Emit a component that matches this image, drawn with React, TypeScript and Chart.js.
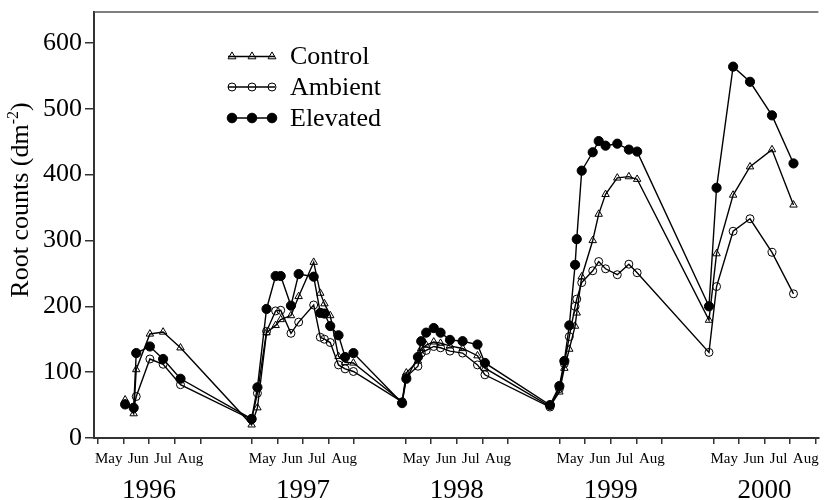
import React, { useEffect, useRef } from 'react';
import { Chart, registerables } from 'chart.js';

Chart.register(...registerables);

// ---- data ----
const years = [1996, 1997, 1998, 1999, 2000];
const monthLabels = ['May', 'Jun', 'Jul', 'Aug'];
const yTicks = [0, 100, 200, 300, 400, 500, 600];

const sampleDates = [
  // 1996
  '1996-06-03', '1996-06-13', '1996-06-16', '1996-07-02', '1996-07-18', '1996-08-08',
  // 1997
  '1997-05-01', '1997-05-08', '1997-05-19', '1997-05-30', '1997-06-05', '1997-06-17', '1997-06-26',
  '1997-07-14', '1997-07-22', '1997-07-27', '1997-08-03', '1997-08-13', '1997-08-21', '1997-08-31',
  // 1998
  '1998-04-27', '1998-05-02', '1998-05-16', '1998-05-20', '1998-05-26', '1998-06-04', '1998-06-12',
  '1998-06-23', '1998-07-08', '1998-07-26', '1998-08-04',
  // 1999
  '1999-04-20', '1999-05-01', '1999-05-07', '1999-05-13', '1999-05-20', '1999-05-22', '1999-05-28',
  '1999-06-10', '1999-06-17', '1999-06-25', '1999-07-09', '1999-07-23', '1999-08-02',
  // 2000
  '2000-04-26', '2000-05-05', '2000-05-25', '2000-06-14', '2000-07-10', '2000-08-05',
];

const control = [
  58, 37, 104, 158, 161, 137,
  20, 46, 160, 171, 180, 186, 215, 267, 220, 204, 186, 124, 115, 114,
  55, 99, 117, 136, 141, 146, 144, 140, 136, 125, 106,
  48, 70, 106, 135, 170, 190, 245, 300, 340, 370, 395, 397, 393,
  179, 280, 369, 412, 438, 354,
];

const ambient = [
  52, 45, 63, 120, 112, 81,
  28, 68, 162, 193, 194, 159, 176, 202, 153, 150, 145, 111, 105, 101,
  55, 93, 109, 129, 133, 139, 137, 132, 129, 111, 96,
  47, 75, 113, 154, 200, 211, 236, 254, 268, 257, 248, 264, 251,
  130, 230, 314, 333, 282, 219,
];

const elevated = [
  51, 46, 129, 139, 120, 90,
  29, 77, 196, 246, 246, 201, 249, 245, 190, 189, 170, 156, 123, 129,
  53, 90, 123, 147, 160, 167, 160, 149, 147, 142, 114,
  50, 79, 117, 171, 263, 302, 406, 434, 451, 444, 447, 438, 435,
  200, 380, 564, 541, 490, 417,
];

// ---- helpers ----
const FIRST_YEAR = years[0];
const MONTHS_PER_YEAR_SHOWN = 6; // each year panel spans six months (May..Sep + gap)
const FIRST_MONTH = 5; // May

function toAxis(d: string): number {
  const [y, m, day] = d.split('-').map(Number);
  const dim = new Date(y, m, 0).getDate();
  return (y - FIRST_YEAR) * MONTHS_PER_YEAR_SHOWN + (m + (day - 1) / dim - FIRST_MONTH);
}

const xs = sampleDates.map(toAxis);
const pts = (vals: number[]) => vals.map((v, i) => ({ x: xs[i], y: v }));

const FONT = '"Liberation Serif", "Times New Roman", serif';
const AXIS_COLOR = '#333';
const CLEAR = 'rgba(0,0,0,0)';

const monthTickValues: number[] = [];
years.forEach((_, k) => {
  for (let i = 0; i <= monthLabels.length; i++) monthTickValues.push(k * MONTHS_PER_YEAR_SHOWN + i);
});

const decorPlugin = {
  id: 'decor',
  afterDraw(chart: any) {
    const ctx = chart.ctx as CanvasRenderingContext2D;
    const area = chart.chartArea;
    const sx = chart.scales.x;
    ctx.save();
    // top frame line
    ctx.strokeStyle = '#555';
    ctx.lineWidth = 1.5;
    ctx.beginPath();
    ctx.moveTo(area.left, area.top);
    ctx.lineTo(area.right, area.top);
    ctx.stroke();

    // month labels and year labels
    ctx.fillStyle = '#000';
    years.forEach((yr, k) => {
      const center = sx.getPixelForValue(k * MONTHS_PER_YEAR_SHOWN + 2);
      ctx.font = `15px ${FONT}`;
      ctx.textBaseline = 'alphabetic';
      ctx.textAlign = 'left';
      const gap = 5.5;
      const widths = monthLabels.map((m) => ctx.measureText(m).width);
      const total = widths.reduce((a, b) => a + b, 0) + gap * (monthLabels.length - 1);
      let x = center - total / 2;
      monthLabels.forEach((m, i) => {
        ctx.fillText(m, x, area.bottom + 25);
        x += widths[i] + gap;
      });
      ctx.font = `27px ${FONT}`;
      ctx.textAlign = 'center';
      ctx.fillText(String(yr), center, area.bottom + 60);
    });

    // y axis title with superscript
    ctx.save();
    ctx.translate(21, 200);
    ctx.rotate(-Math.PI / 2);
    ctx.textBaseline = 'middle';
    ctx.textAlign = 'left';
    const main = 'Root counts (dm';
    const sup = '-2';
    const close = ')';
    ctx.font = `26px ${FONT}`;
    const wMain = ctx.measureText(main).width;
    const wClose = ctx.measureText(close).width;
    ctx.font = `16px ${FONT}`;
    const wSup = ctx.measureText(sup).width;
    let tx = -(wMain + wSup + wClose) / 2;
    ctx.font = `26px ${FONT}`;
    ctx.fillText(main, tx, 0);
    tx += wMain;
    ctx.font = `16px ${FONT}`;
    ctx.fillText(sup, tx, -7);
    tx += wSup;
    ctx.font = `26px ${FONT}`;
    ctx.fillText(close, tx, 0);
    ctx.restore();

    // legend
    const entries = [
      { label: 'Control', style: 'triangle', filled: false },
      { label: 'Ambient', style: 'circle', filled: false },
      { label: 'Elevated', style: 'circle', filled: true },
    ];
    const rowY = [56.5, 87, 118];
    entries.forEach((e, i) => {
      const y = rowY[i];
      ctx.strokeStyle = '#000';
      ctx.lineWidth = 1.3;
      ctx.beginPath();
      ctx.moveTo(228, y);
      ctx.lineTo(275, y);
      ctx.stroke();
      [232, 252, 272].forEach((mx) => {
        ctx.beginPath();
        if (e.style === 'triangle') {
          const r = 4.6;
          ctx.moveTo(mx, y - r);
          ctx.lineTo(mx + r * 0.866, y + r * 0.5);
          ctx.lineTo(mx - r * 0.866, y + r * 0.5);
          ctx.closePath();
        } else {
          ctx.arc(mx, y, e.filled ? 4.8 : 4, 0, Math.PI * 2);
        }
        if (e.filled) {
          ctx.fillStyle = '#000';
          ctx.fill();
        }
        ctx.lineWidth = 1;
        ctx.stroke();
      });
      ctx.fillStyle = '#000';
      ctx.font = `26px ${FONT}`;
      ctx.textAlign = 'left';
      ctx.textBaseline = 'middle';
      ctx.fillText(e.label, 290, y + 1);
    });
    ctx.restore();
  },
};

export default function App() {
  const ref = useRef<HTMLCanvasElement | null>(null);
  useEffect(() => {
    document.body.style.margin = '0';
    const canvas = ref.current;
    if (!canvas) return;
    const common = {
      borderColor: '#000',
      borderWidth: 1.4,
      pointBorderColor: '#000',
      pointBorderWidth: 1,
      tension: 0,
    };
    const chart = new Chart(canvas, {
      type: 'line',
      data: {
        datasets: [
          {
            ...common,
            label: 'Control',
            data: pts(control),
            pointStyle: 'triangle',
            pointRadius: 4.3,
            pointBackgroundColor: CLEAR,
            order: 1,
          },
          {
            ...common,
            label: 'Ambient',
            data: pts(ambient),
            pointStyle: 'circle',
            pointRadius: 4,
            pointBackgroundColor: CLEAR,
            order: 2,
          },
          {
            ...common,
            label: 'Elevated',
            data: pts(elevated),
            pointStyle: 'circle',
            pointRadius: 4.6,
            pointBackgroundColor: '#000',
            order: 0,
          },
        ],
      },
      options: {
        responsive: false,
        animation: false,
        layout: { padding: { top: 12, left: 0, right: 0, bottom: 0 } },
        plugins: { legend: { display: false }, tooltip: { enabled: false } },
        scales: {
          x: {
            type: 'linear',
            min: -0.147,
            max: 28.1,
            afterBuildTicks: (s: any) => {
              s.ticks = monthTickValues.map((v) => ({ value: v }));
            },
            afterFit: (s: any) => {
              s.height = 62;
              s.paddingLeft = 0;
              s.paddingRight = 0;
            },
            ticks: { callback: () => '', autoSkip: false, maxRotation: 0 },
            grid: {
              drawOnChartArea: false,
              drawTicks: true,
              tickLength: 6,
              color: AXIS_COLOR,
              lineWidth: 1.5,
            },
            border: { display: true, color: AXIS_COLOR, width: 2 },
          },
          y: {
            type: 'linear',
            min: 0,
            max: 647,
            afterBuildTicks: (s: any) => {
              s.ticks = yTicks.map((v) => ({ value: v }));
            },
            afterFit: (s: any) => {
              s.width = 94;
              s.paddingTop = 0;
              s.paddingBottom = 0;
            },
            ticks: {
              color: '#000',
              padding: 3,
              font: { family: FONT, size: 26 },
            },
            grid: {
              drawOnChartArea: false,
              drawTicks: true,
              tickLength: 9,
              color: AXIS_COLOR,
              lineWidth: 1.5,
            },
            border: { display: true, color: AXIS_COLOR, width: 2 },
          },
        },
      },
      plugins: [decorPlugin],
    } as any);
    return () => chart.destroy();
  }, []);
  return (
    <div style={{ width: 824, height: 500 }}>
      <canvas ref={ref} width={824} height={500} style={{ display: 'block' }} />
    </div>
  );
}
